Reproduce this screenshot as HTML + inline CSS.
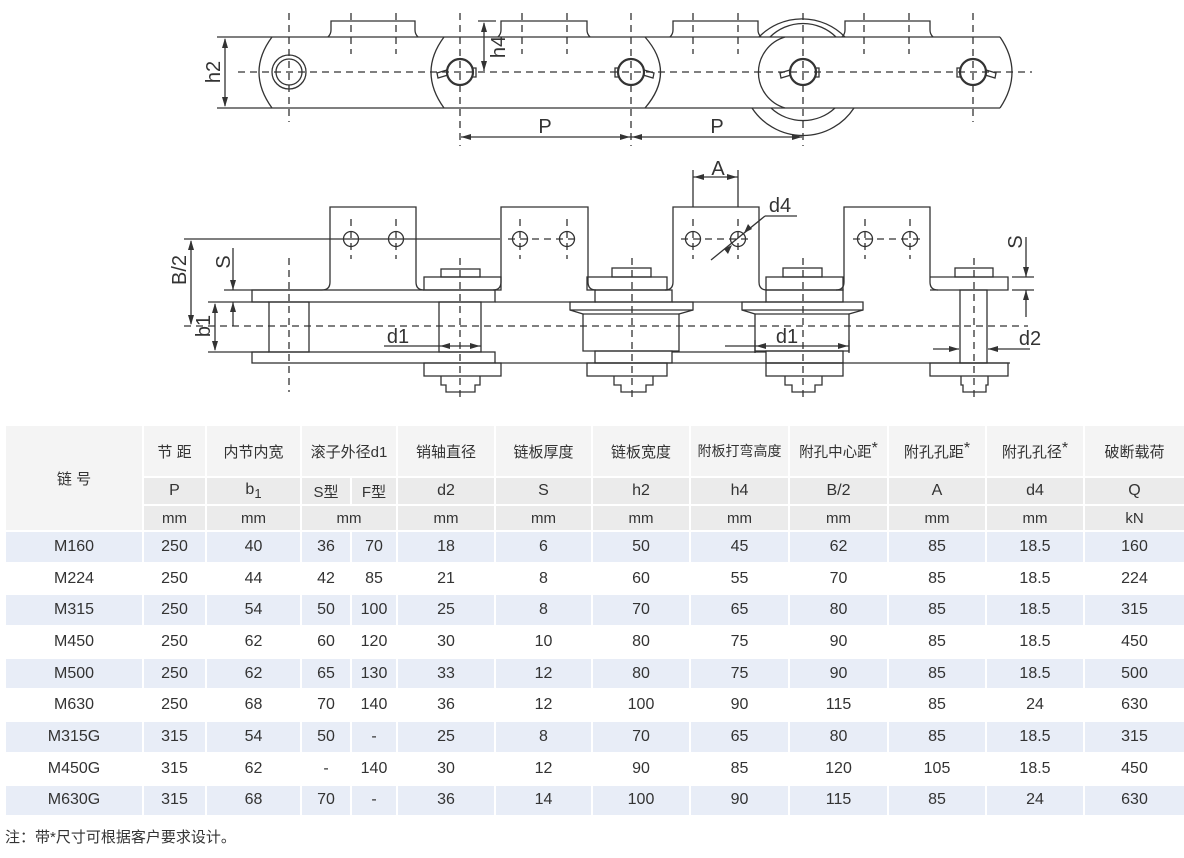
<!DOCTYPE html>
<html><head><meta charset="utf-8">
<style>
html,body{margin:0;padding:0;background:#fff;}
body{width:1184px;height:858px;position:relative;overflow:hidden;font-family:"Liberation Sans","Noto Sans CJK SC",sans-serif;color:#333;}
svg{position:absolute;left:0;top:0;}
table{position:absolute;left:4px;top:424px;border-collapse:collapse;table-layout:fixed;width:1180px;}
td{border:2px solid #fff;text-align:center;padding:0;font-size:16px;color:#333;}
tr.h1 td{background:#f4f4f4;height:50px;font-size:15px;}
tr.h2 td{background:#ebebeb;height:26px;}
tr.h3 td{background:#ebebeb;height:24px;font-size:15px;}
tr.d td{height:29.7px;}
tr.b td{background:#e8edf7;}
td.k{background:#f4f4f4 !important;font-size:15px;}
sup{font-size:16px;vertical-align:4px;line-height:0}
.note{position:absolute;left:5px;top:826px;font-size:15px;}
</style></head><body>
<svg width="1184" height="420" viewBox="0 0 1184 420" fill="none" stroke="#333" stroke-width="1.3">
<g>
<line x1="217" y1="37" x2="1000" y2="37"/>
<line x1="217" y1="108" x2="1000" y2="108"/>
<path d="M272 37 Q246 72 272 108"/>
<path d="M444 37 Q418 72 444 108"/>
<path d="M645 37 Q676 72 645 108"/>
<path d="M1000 37 Q1024 72 1000 108"/>
<path d="M328 37 Q331 34 331 30 L331 21 L415 21 L415 30 Q415 34 418 37"/>
<path d="M498 37 Q501 34 501 30 L501 21 L587 21 L587 30 Q587 34 590 37"/>
<path d="M670 37 Q673 34 673 30 L673 21 L758 21 L758 30 Q758 34 761 37"/>
<path d="M842 37 Q845 34 845 30 L845 21 L930 21 L930 30 Q930 34 933 37"/>
<path d="M759 37 A60 60 0 0 1 845 37"/>
<path d="M770 37 A47 47 0 0 1 836 37"/>
<path d="M752 108 A61 61 0 0 0 854 108"/>
<path d="M771 108 A47 47 0 0 0 835 108"/>
<path d="M785 37 A37 37 0 0 0 785 108"/>
<circle cx="289" cy="72" r="17"/><circle cx="289" cy="72" r="13"/>
<circle cx="460" cy="72" r="13" stroke-width="2.2"/>
<circle cx="631" cy="72" r="13" stroke-width="2.2"/>
<circle cx="803" cy="72" r="13" stroke-width="2.2"/>
<circle cx="973" cy="72" r="13" stroke-width="2.2"/>
<path d="M447 70 L437 73 L438 78 L448 75"/><path d="M473 68 L476 68 L476 77 L473 77"/>
<path d="M644 70 L654 73 L653 78 L643 75"/><path d="M618 68 L615 68 L615 77 L618 77"/>
<path d="M790 70 L780 73 L781 78 L791 75"/><path d="M816 68 L819 68 L819 77 L816 77"/>
<path d="M986 70 L996 73 L995 78 L985 75"/><path d="M960 68 L957 68 L957 77 L960 77"/>
<g stroke-dasharray="7,5">
<line x1="238" y1="72" x2="1032" y2="72"/>
<line x1="289" y1="13" x2="289" y2="122"/>
<line x1="460" y1="13" x2="460" y2="146"/>
<line x1="631" y1="13" x2="631" y2="146"/>
<line x1="803" y1="13" x2="803" y2="146"/>
<line x1="973" y1="13" x2="973" y2="122"/>
<line x1="351" y1="13" x2="351" y2="54"/><line x1="396" y1="13" x2="396" y2="54"/>
<line x1="522" y1="13" x2="522" y2="54"/><line x1="567" y1="13" x2="567" y2="54"/>
<line x1="693" y1="13" x2="693" y2="54"/><line x1="738" y1="13" x2="738" y2="54"/>
<line x1="864" y1="13" x2="864" y2="54"/><line x1="909" y1="13" x2="909" y2="54"/>
</g>
<line x1="225" y1="39" x2="225" y2="106"/>
<path d="M225 38 l-3 10 h6z M225 107 l-3 -10 h6z" fill="#333" stroke="none"/>
<line x1="478" y1="21" x2="496" y2="21"/>
<line x1="484" y1="23" x2="484" y2="71"/>
<path d="M484 22 l-3 10 h6z M484 71 l-3 -10 h6z" fill="#333" stroke="none"/>
<line x1="461" y1="137" x2="802" y2="137"/>
<path d="M461 137 l10 -3 v6z M630 137 l-10 -3 v6z M632 137 l10 -3 v6z M802 137 l-10 -3 v6z" fill="#333" stroke="none"/>
</g>
<g fill="#333" stroke="none" font-family="Liberation Sans, sans-serif" font-size="20">
<text x="545" y="133" text-anchor="middle">P</text>
<text x="717" y="133" text-anchor="middle">P</text>
<text transform="translate(220,72) rotate(-90)" text-anchor="middle">h2</text>
<text transform="translate(505,47) rotate(-90)" text-anchor="middle">h4</text>
</g>

<g>
<path d="M252 290 H322 Q330 290 330 282 V207 H416 V282 Q416 290 424 290"/>
<rect x="252" y="290" width="243" height="12"/>
<rect x="269" y="302" width="40" height="50"/>
<rect x="252" y="352" width="243" height="11"/>
<rect x="441" y="269" width="39" height="8"/>
<rect x="424" y="277" width="77" height="13"/>
<rect x="439" y="302" width="42" height="50"/>
<rect x="424" y="363" width="77" height="13"/>
<path d="M441 376 V385 H446 V392 H475 V385 H480 V376"/>
<path d="M493 290 Q501 290 501 282 V207 H588 V282 Q588 290 596 290"/>
<line x1="495" y1="302" x2="596" y2="302"/>
<rect x="612" y="268" width="39" height="9"/>
<rect x="587" y="277" width="80" height="13"/>
<rect x="595" y="290" width="77" height="12"/>
<path d="M570 302 H693 V310 L679 314 V351 H583 V314 L570 310 Z"/>
<line x1="583" y1="314" x2="679" y2="314"/>
<line x1="570" y1="310" x2="693" y2="310"/>
<rect x="595" y="351" width="77" height="12"/>
<rect x="587" y="363" width="80" height="13"/>
<path d="M614 376 V385 H621 V392 H646 V385 H653 V376"/>
<path d="M665 290 Q673 290 673 282 V207 H759 V282 Q759 290 767 290"/>
<line x1="672" y1="302" x2="766" y2="302"/>
<rect x="783" y="268" width="39" height="9"/>
<rect x="766" y="277" width="77" height="13"/>
<rect x="766" y="290" width="77" height="12"/>
<path d="M742 302 H863 V310 L849 314 V351 H755 V314 L742 310 Z"/>
<line x1="755" y1="314" x2="849" y2="314"/>
<line x1="742" y1="310" x2="863" y2="310"/>
<rect x="766" y="351" width="77" height="12"/>
<rect x="766" y="363" width="77" height="13"/>
<path d="M785 376 V385 H792 V392 H815 V385 H822 V376"/>
<line x1="495" y1="363" x2="1010" y2="363"/>
<line x1="672" y1="352" x2="766" y2="352"/>
<path d="M836 290 Q844 290 844 282 V207 H930 V282 Q930 290 938 290"/>
<rect x="955" y="268" width="38" height="9"/>
<path d="M930 277 H1008 V290 H930"/>
<rect x="960" y="290" width="27" height="73"/>
<rect x="930" y="363" width="78" height="13"/>
<path d="M961 376 V385 H963 V392 H986 V385 H988 V376"/>
<circle cx="351" cy="239" r="7.5"/><circle cx="396" cy="239" r="7.5"/>
<circle cx="520" cy="239" r="7.5"/><circle cx="567" cy="239" r="7.5"/>
<circle cx="693" cy="239" r="7.5"/><circle cx="738" cy="239" r="7.5"/>
<circle cx="865" cy="239" r="7.5"/><circle cx="910" cy="239" r="7.5"/>
<line x1="184" y1="239" x2="500" y2="239"/>
<g stroke-dasharray="7,5">
<line x1="184" y1="326" x2="1028" y2="326"/>
<line x1="289" y1="258" x2="289" y2="392"/>
<line x1="460" y1="258" x2="460" y2="398"/>
<line x1="632" y1="258" x2="632" y2="398"/>
<line x1="803" y1="258" x2="803" y2="398"/>
<line x1="974" y1="258" x2="974" y2="398"/>
<line x1="508" y1="239" x2="580" y2="239"/>
<line x1="681" y1="239" x2="750" y2="239"/>
<line x1="853" y1="239" x2="922" y2="239"/>
<line x1="351" y1="219" x2="351" y2="259"/><line x1="396" y1="219" x2="396" y2="259"/>
<line x1="520" y1="219" x2="520" y2="259"/><line x1="567" y1="219" x2="567" y2="259"/>
<line x1="693" y1="219" x2="693" y2="259"/><line x1="738" y1="219" x2="738" y2="259"/>
<line x1="865" y1="219" x2="865" y2="259"/><line x1="910" y1="219" x2="910" y2="259"/>
</g>
<line x1="191" y1="241" x2="191" y2="324"/>
<path d="M191 240 l-3 10 h6z M191 325 l-3 -10 h6z" fill="#333" stroke="none"/>
<line x1="224" y1="290" x2="252" y2="290"/>
<line x1="208" y1="302" x2="269" y2="302"/>
<line x1="208" y1="352" x2="269" y2="352"/>
<line x1="233" y1="248" x2="233" y2="290"/>
<line x1="233" y1="302" x2="233" y2="326"/>
<path d="M233 290 l-3 -10 h6z M233 302 l-3 10 h6z" fill="#333" stroke="none"/>
<line x1="215" y1="304" x2="215" y2="350"/>
<path d="M215 303 l-3 10 h6z M215 351 l-3 -10 h6z" fill="#333" stroke="none"/>
<line x1="384" y1="346" x2="481" y2="346"/>
<path d="M440 346 l10 -3 v6z M480 346 l-10 -3 v6z" fill="#333" stroke="none"/>
<line x1="725" y1="346" x2="849" y2="346"/>
<line x1="755" y1="340" x2="755" y2="353"/><line x1="849" y1="340" x2="849" y2="353"/>
<path d="M756 346 l10 -3 v6z M848 346 l-10 -3 v6z" fill="#333" stroke="none"/>
<line x1="933" y1="349" x2="959" y2="349"/><line x1="988" y1="349" x2="1030" y2="349"/>
<path d="M959 349 l-10 -3 v6z M988 349 l10 -3 v6z" fill="#333" stroke="none"/>
<line x1="1012" y1="277" x2="1034" y2="277"/><line x1="1012" y1="290" x2="1034" y2="290"/>
<line x1="1026" y1="237" x2="1026" y2="277"/><line x1="1026" y1="290" x2="1026" y2="317"/>
<path d="M1026 277 l-3 -10 h6z M1026 290 l-3 10 h6z" fill="#333" stroke="none"/>
<line x1="693" y1="170" x2="693" y2="207"/><line x1="738" y1="170" x2="738" y2="207"/>
<line x1="693" y1="177" x2="738" y2="177"/>
<path d="M694 177 l10 -3 v6z M737 177 l-10 -3 v6z" fill="#333" stroke="none"/>
<line x1="711" y1="260" x2="765" y2="216"/><line x1="765" y1="216" x2="797" y2="216"/>
<path d="M744 233 l4 -9 l4 5z M732 245 l-4 9 l-4 -5z" fill="#333" stroke="none"/>
</g>
<g fill="#333" stroke="none" font-family="Liberation Sans, sans-serif" font-size="20">
<text x="398" y="343" text-anchor="middle">d1</text>
<text x="787" y="343" text-anchor="middle">d1</text>
<text x="1030" y="345" text-anchor="middle">d2</text>
<text x="718" y="175" text-anchor="middle">A</text>
<text x="780" y="212" text-anchor="middle">d4</text>
<text transform="translate(186,270) rotate(-90)" text-anchor="middle">B/2</text>
<text transform="translate(230,262) rotate(-90)" text-anchor="middle">S</text>
<text transform="translate(210,326) rotate(-90)" text-anchor="middle">b1</text>
<text transform="translate(1022,242) rotate(-90)" text-anchor="middle">S</text>
</g>
</svg>

<table>
<colgroup><col style="width:138px"><col style="width:63px"><col style="width:95px"><col style="width:50px"><col style="width:46px"><col style="width:98px"><col style="width:97px"><col style="width:98px"><col style="width:99px"><col style="width:99px"><col style="width:98px"><col style="width:98px"><col style="width:101px"></colgroup>
<tr class="h1"><td class="k" rowspan="3">链 号</td><td>节 距</td><td>内节内宽</td><td colspan="2">滚子外径d1</td><td>销轴直径</td><td>链板厚度</td><td>链板宽度</td><td style="font-size:14px;white-space:nowrap">附板打弯高度</td><td style="white-space:nowrap;font-size:14.5px">附孔中心距<sup>*</sup></td><td>附孔孔距<sup>*</sup></td><td>附孔孔径<sup>*</sup></td><td>破断载荷</td></tr>
<tr class="h2"><td>P</td><td>b<sub style="font-size:13px">1</sub></td><td style="font-size:15px">S型</td><td style="font-size:15px">F型</td><td>d2</td><td>S</td><td>h2</td><td>h4</td><td>B/2</td><td>A</td><td>d4</td><td>Q</td></tr>
<tr class="h3"><td>mm</td><td>mm</td><td colspan="2">mm</td><td>mm</td><td>mm</td><td>mm</td><td>mm</td><td>mm</td><td>mm</td><td>mm</td><td>kN</td></tr>
<tr class="d b"><td>M160</td><td>250</td><td>40</td><td>36</td><td>70</td><td>18</td><td>6</td><td>50</td><td>45</td><td>62</td><td>85</td><td>18.5</td><td>160</td></tr>
<tr class="d"><td>M224</td><td>250</td><td>44</td><td>42</td><td>85</td><td>21</td><td>8</td><td>60</td><td>55</td><td>70</td><td>85</td><td>18.5</td><td>224</td></tr>
<tr class="d b"><td>M315</td><td>250</td><td>54</td><td>50</td><td>100</td><td>25</td><td>8</td><td>70</td><td>65</td><td>80</td><td>85</td><td>18.5</td><td>315</td></tr>
<tr class="d"><td>M450</td><td>250</td><td>62</td><td>60</td><td>120</td><td>30</td><td>10</td><td>80</td><td>75</td><td>90</td><td>85</td><td>18.5</td><td>450</td></tr>
<tr class="d b"><td>M500</td><td>250</td><td>62</td><td>65</td><td>130</td><td>33</td><td>12</td><td>80</td><td>75</td><td>90</td><td>85</td><td>18.5</td><td>500</td></tr>
<tr class="d"><td>M630</td><td>250</td><td>68</td><td>70</td><td>140</td><td>36</td><td>12</td><td>100</td><td>90</td><td>115</td><td>85</td><td>24</td><td>630</td></tr>
<tr class="d b"><td>M315G</td><td>315</td><td>54</td><td>50</td><td>-</td><td>25</td><td>8</td><td>70</td><td>65</td><td>80</td><td>85</td><td>18.5</td><td>315</td></tr>
<tr class="d"><td>M450G</td><td>315</td><td>62</td><td>-</td><td>140</td><td>30</td><td>12</td><td>90</td><td>85</td><td>120</td><td>105</td><td>18.5</td><td>450</td></tr>
<tr class="d b"><td>M630G</td><td>315</td><td>68</td><td>70</td><td>-</td><td>36</td><td>14</td><td>100</td><td>90</td><td>115</td><td>85</td><td>24</td><td>630</td></tr>
</table>
<div class="note">注：带*尺寸可根据客户要求设计。</div>
</body></html>
